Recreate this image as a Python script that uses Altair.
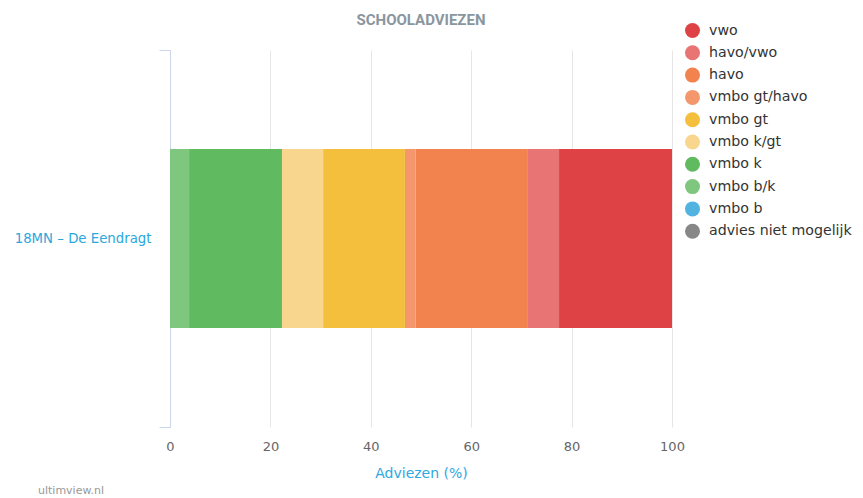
import altair as alt
import pandas as pd

school = "18MN – De Eendragt"
categories = ["vwo", "havo/vwo", "havo", "vmbo gt/havo", "vmbo gt",
              "vmbo k/gt", "vmbo k", "vmbo b/k", "vmbo b", "advies niet mogelijk"]
values = [22.5, 6.2, 22.4, 2.1, 16.3, 8.2, 18.5, 3.8, 0.0, 0.0]
colors = ["#df4245", "#e87474", "#f2834f", "#f4976c", "#f3bf3d",
          "#f8d68e", "#60ba5f", "#7fc77e", "#52b3e0", "#878787"]
x_ticks = [0, 20, 40, 60, 80, 100]
title_text = "SCHOOLADVIEZEN"
credit_text = "ultimview.nl"

df = pd.DataFrame({
    "school": [school] * len(categories),
    "advies": categories,
    "pct": values,
    "order": list(range(len(categories), 0, -1)),
})

bars = alt.Chart(df).mark_bar(size=179).encode(
    x=alt.X("pct:Q", stack="zero",
            scale=alt.Scale(domain=[0, 100], nice=False),
            axis=alt.Axis(values=x_ticks, title="Adviezen (%)", domain=False, ticks=False,
                          grid=True, gridColor="#e6e6e6", labelColor="#666666",
                          labelFontSize=13, labelFont="DejaVu Sans", labelPadding=13,
                          labelFlush=False,
                          titleColor="#2ea8df", titleFontSize=14, titleFont="DejaVu Sans",
                          titleFontWeight="normal", titlePadding=13)),
    y=alt.Y("school:N", title=None,
            scale=alt.Scale(paddingInner=0, paddingOuter=0),
            axis=alt.Axis(tickBand="extent", domainColor="#ccd6eb", tickColor="#ccd6eb",
                          tickSize=11, labelColor="#2aa8dc", labelFontSize=13.3,
                          labelFont="DejaVu Sans", labelPadding=8, grid=False)),
    color=alt.Color("advies:N",
                    scale=alt.Scale(domain=categories, range=colors),
                    legend=alt.Legend(title=None, orient="none", legendX=515, legendY=-27,
                                      symbolType="circle", symbolSize=225,
                                      symbolStrokeWidth=0, symbolOpacity=1,
                                      labelFontSize=14.2, labelFont="DejaVu Sans",
                                      labelColor="#333333", labelOffset=9,
                                      rowPadding=7.3, padding=0, labelLimit=300)),
    order=alt.Order("order:Q"),
)

title = alt.Chart(pd.DataFrame({"t": [title_text]})).mark_text(
    align="center", baseline="middle", fontSize=15, font="Roboto", fontWeight="bold",
    color="#8a969e"
).encode(text="t:N", x=alt.value(251), y=alt.value(-30))

credit = alt.Chart(pd.DataFrame({"t": [credit_text]})).mark_text(
    align="left", baseline="middle", fontSize=11, font="DejaVu Sans", color="#999999"
).encode(text="t:N", x=alt.value(-132), y=alt.value(441))

chart = alt.layer(bars, title, credit).properties(
    width=502, height=377,
    autosize=alt.AutoSizeParams(type="none"),
    padding={"left": 162, "top": 42, "right": 183, "bottom": 72},
).configure_view(stroke=None)

chart.save("out.html", embed_options={"renderer": "svg", "actions": False})
